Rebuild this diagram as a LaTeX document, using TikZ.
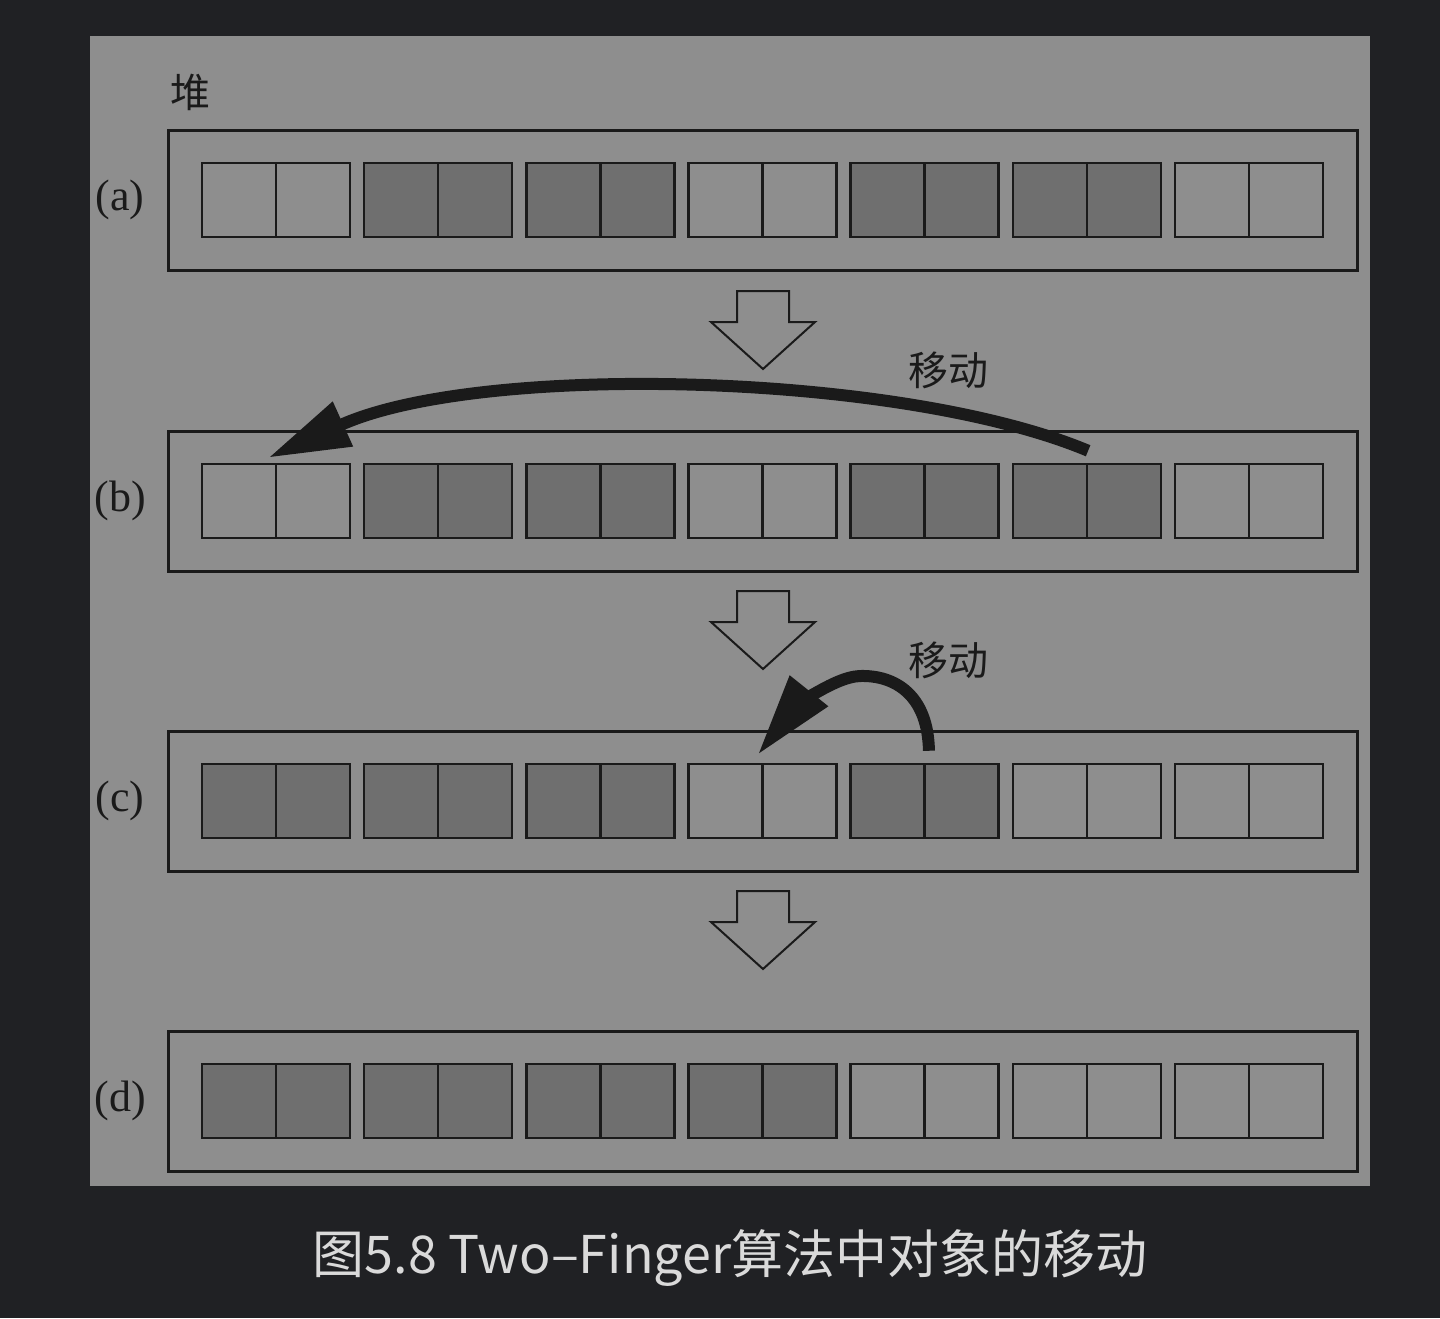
\documentclass[tikz,border=0pt]{standalone}
\usepackage{fontspec}
\setmainfont{Liberation Serif}
\newfontfamily\cjk{Noto Sans CJK SC}
\usetikzlibrary{arrows.meta}
\definecolor{bg}{HTML}{202124}
\definecolor{panel}{HTML}{8E8E8E}
\definecolor{cL}{HTML}{8E8E8E}
\definecolor{cD}{HTML}{6F6F6F}
\definecolor{ink}{HTML}{1A1A1A}
\definecolor{captxt}{HTML}{DADADA}
\tikzset{
  rowbox/.style={draw=ink, line width=3pt, minimum width=1189pt, minimum height=140pt, inner sep=0pt},
  cellbox/.style={draw=ink, line width=2.5pt, minimum width=74pt, minimum height=74pt, inner sep=0pt},
  lab/.style={text=ink, font=\fontsize{44}{48}\selectfont},
  cjklab/.style={text=ink, font=\cjk\fontsize{40}{46}\selectfont},
  hollow/.style={draw=ink, line width=2pt, line join=miter},
  move/.style={draw=ink, line width=12pt, -{Triangle[length=82pt,width=46pt]}},
  downarrow/.pic={\draw[hollow] (-26,0) -- (26,0) -- (26,31) -- (52,31) -- (0,78) -- (-52,31) -- (-26,31) -- cycle;}
}
\begin{document}
\begin{tikzpicture}[x=1pt,y=-1pt]
\fill[bg] (0,0) rectangle (1440,1318);
\path[use as bounding box] (0,0) rectangle (1440,1318);
\fill[panel] (90,36) rectangle (1370,1186);

\node[cjklab] (heap) at (190,92) {堆};

\foreach \r/\y/\cols in {a/200/{L,D,D,L,D,D,L}, b/501/{L,D,D,L,D,D,L}, c/801/{D,D,D,L,D,L,L}, d/1101/{D,D,D,D,L,L,L}} {
  \node[rowbox] (row-\r) at (762.5,\y) {};
  \node[lab] (lab-\r) at (120,\y) {(\r)};
  \foreach \c [count=\k from 0] in \cols {
    \pgfmathsetmacro{\xs}{202+162.17*\k}
    \pgfmathtruncatemacro{\ia}{2*\k+1}
    \pgfmathtruncatemacro{\ib}{2*\k+2}
    \node[cellbox, fill=c\c] (\r\ia) at (\xs+37,\y) {};
    \node[cellbox, fill=c\c] (\r\ib) at (\xs+111,\y) {};
  }
}

\path (763,291) pic {downarrow};
\path (763,591) pic {downarrow};
\path (763,891) pic {downarrow};

\coordinate (s1) at ([yshift=12pt]b11.north east);
\coordinate (t1) at ([xshift=-9pt,yshift=5pt]b1.north east);
\draw[move] (s1) .. controls (900,372) and (480,362) .. (t1);
\node[cjklab] (mv1) at (948,370) {移动};

\coordinate (s2) at ([xshift=3pt,yshift=12pt]c9.north east);
\coordinate (t2) at ([xshift=-6pt,yshift=8pt]c7.north east);
\draw[move] (s2) .. controls (928,695) and (895,675) .. (860,676) .. controls (832,677) and (792,712) .. (t2);
\node[cjklab] (mv2) at (948,660) {移动};

\node[text=captxt, font=\cjk\fontsize{52}{58}\selectfont] (cap) at (730,1258) {图5.8 Two–Finger算法中对象的移动};
\end{tikzpicture}
\end{document}
